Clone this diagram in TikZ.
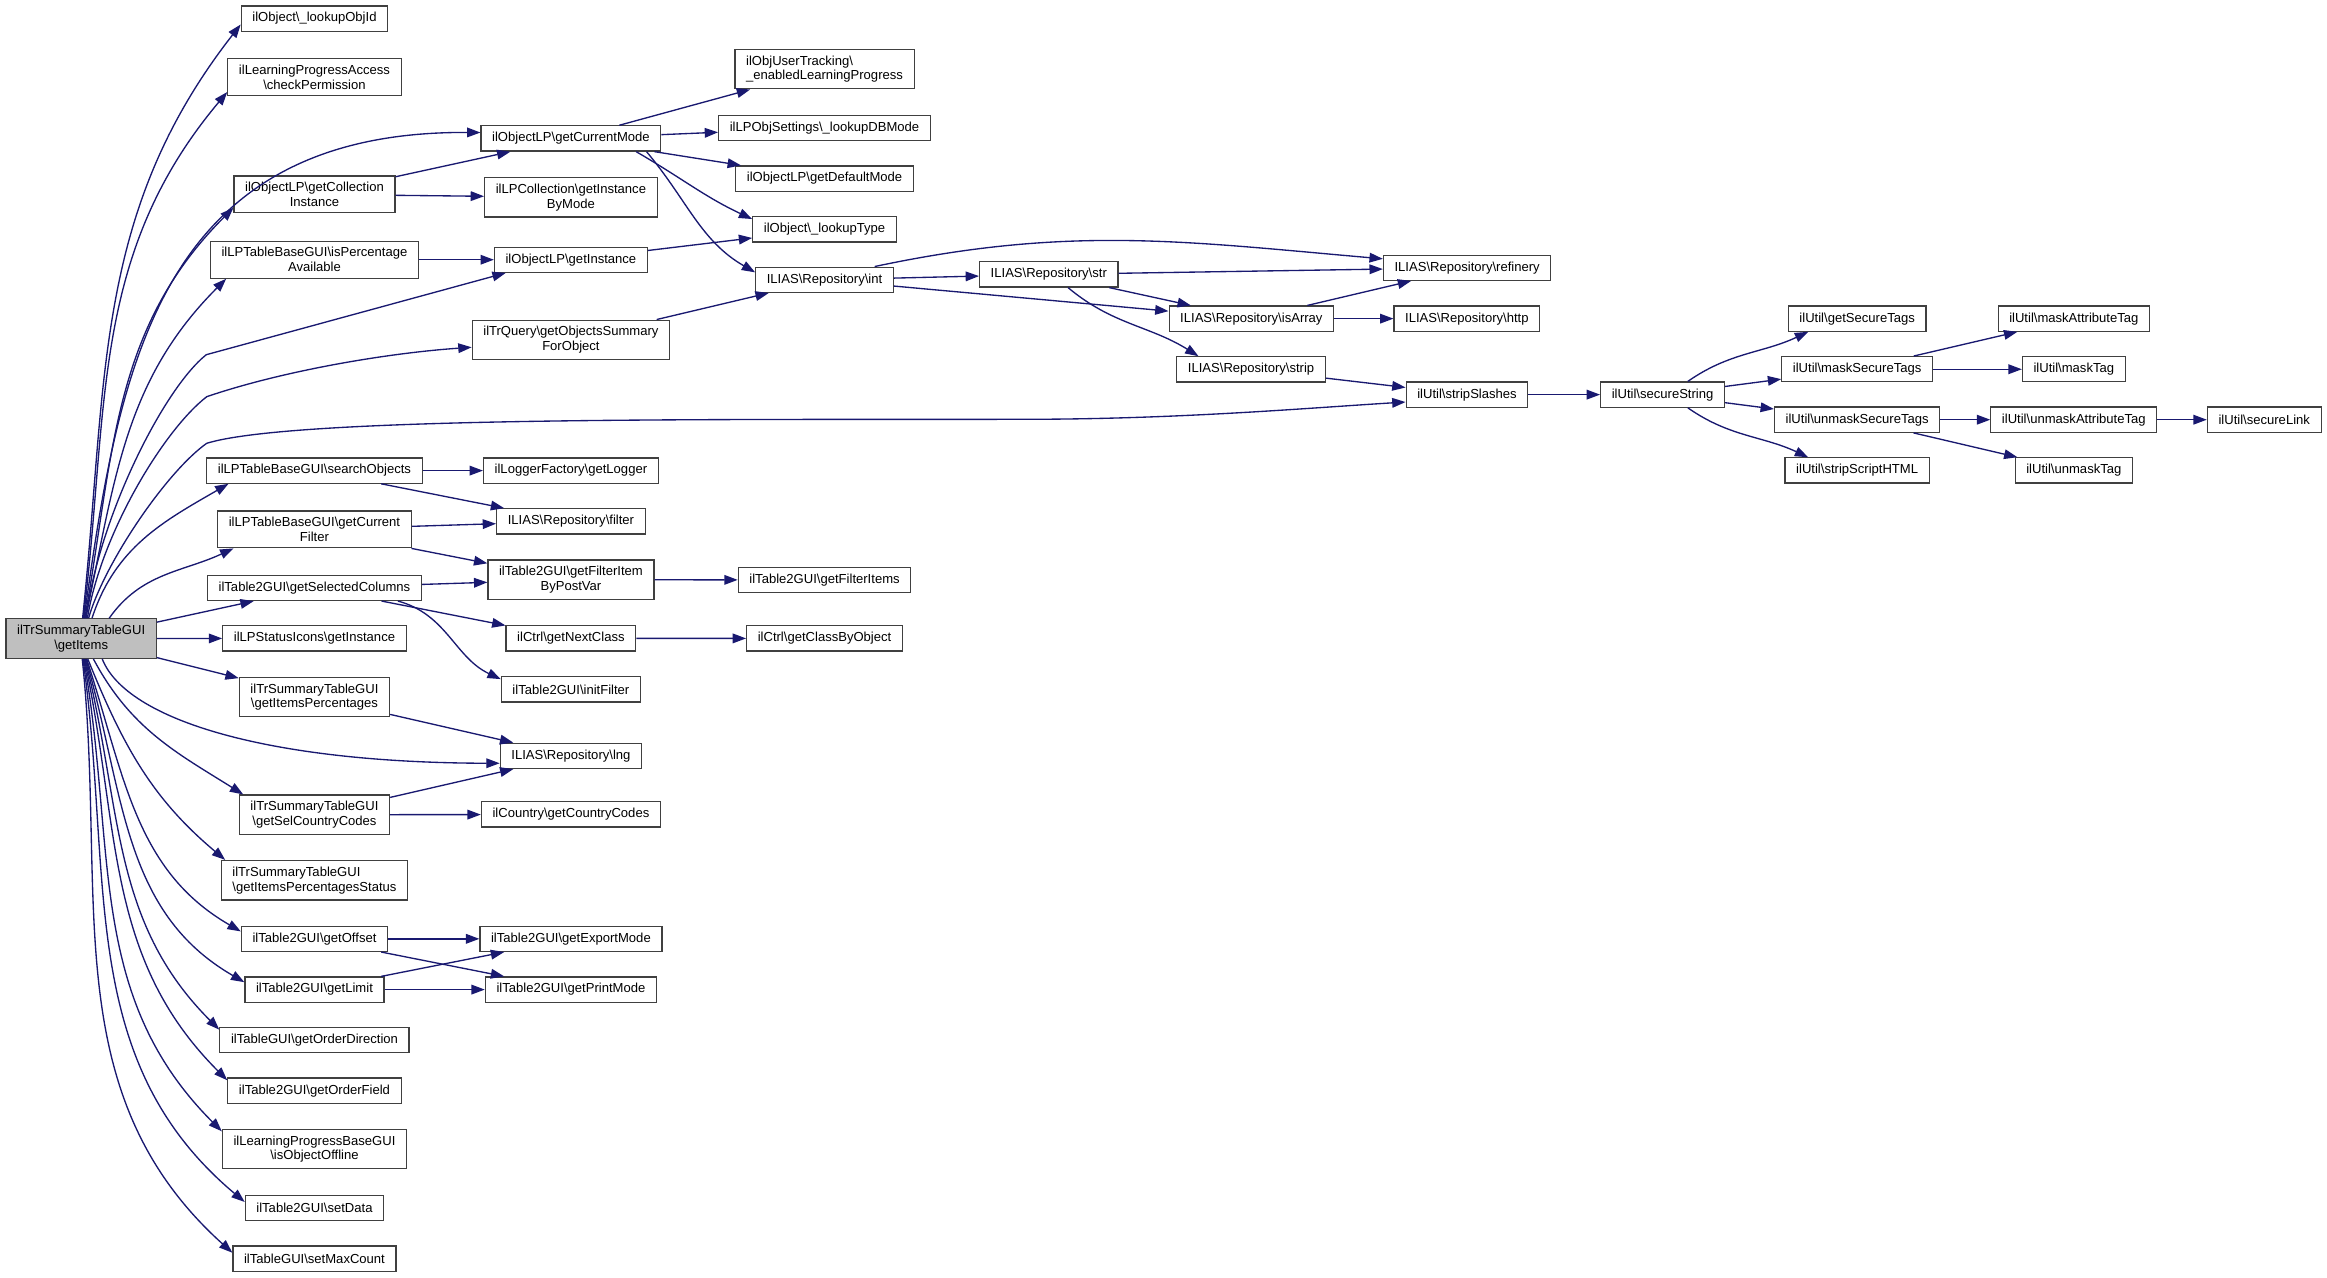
\documentclass[tikz,border=0pt]{standalone}
\usepackage{fontspec}
\setmainfont{Liberation Sans}
\usepackage{tikz}
\usetikzlibrary{arrows.meta}
\definecolor{callblue}{HTML}{191970}
\definecolor{rootgray}{HTML}{BFBFBF}
\newcommand{\bk}{\textbackslash}

\begin{document}
\begin{tikzpicture}[x=1pt,y=1pt]
\useasboundingbox (0,0) rectangle (1568,-860.5);
%\tikzstyle{fn}=[draw,rectangle,fill=white]
\begin{scope}[every node/.style={rectangle,draw=black!75,line width=0.8pt,fill=white,align=center,font=\fontsize{8.8}{10}\selectfont,inner xsep=7.5pt,inner ysep=4.2pt,minimum height=17pt}]
    \node[fill=rootgray] (root) at (54.7,-430.3) {ilTrSummaryTableGUI\\\bk getItems};

    \node (lookobj) at (211.9,-12.5) {ilObject\bk\_lookupObjId};
    \node (checkperm) at (211.9,-52) {ilLearningProgressAccess\\\bk checkPermission};
    \node (getcoll) at (211.9,-131) {ilObjectLP\bk getCollection\\Instance};
    \node (ispercent) at (211.9,-175) {ilLPTableBaseGUI\bk isPercentage\\Available};
    \node (searchobj) at (211.9,-317.1) {ilLPTableBaseGUI\bk searchObjects};
    \node (curfilter) at (211.9,-356.7) {ilLPTableBaseGUI\bk getCurrent\\Filter};
    \node (selcols) at (211.9,-396.1) {ilTable2GUI\bk getSelectedColumns};
    \node (statusicons) at (211.9,-430.1) {ilLPStatusIcons\bk getInstance};
    \node (itemsperc) at (211.9,-469.7) {ilTrSummaryTableGUI\\\bk getItemsPercentages};
    \node (selcountry) at (211.9,-549) {ilTrSummaryTableGUI\\\bk getSelCountryCodes};
    \node[align=left] (percstatus) at (211.9,-593.1) {ilTrSummaryTableGUI\\\bk getItemsPercentagesStatus};
    \node (getoffset) at (211.9,-632.6) {ilTable2GUI\bk getOffset};
    \node (getlimit) at (211.9,-666.8) {ilTable2GUI\bk getLimit};
    \node (orderdir) at (211.9,-700.8) {ilTableGUI\bk getOrderDirection};
    \node (orderfield) at (211.9,-734.9) {ilTable2GUI\bk getOrderField};
    \node (offline) at (211.9,-774.3) {ilLearningProgressBaseGUI\\\bk isObjectOffline};
    \node (setdata) at (211.9,-813.9) {ilTable2GUI\bk setData};
    \node (maxcount) at (211.9,-848.1) {ilTableGUI\bk setMaxCount};

    \node (curmode) at (384.7,-93.3) {ilObjectLP\bk getCurrentMode};
    \node (collmode) at (384.7,-132.9) {ilLPCollection\bk getInstance\\ByMode};
    \node (lpinst) at (384.7,-175) {ilObjectLP\bk getInstance};
    \node (objsum) at (384.7,-229) {ilTrQuery\bk getObjectsSummary\\ForObject};
    \node (logger) at (384.7,-317.1) {ilLoggerFactory\bk getLogger};
    \node (filter) at (384.7,-351.3) {ILIAS\bk Repository\bk filter};
    \node (filteritem) at (384.7,-390.6) {ilTable2GUI\bk getFilterItem\\ByPostVar};
    \node (nextclass) at (384.7,-430.1) {ilCtrl\bk getNextClass};
    \node (initfilter) at (384.7,-464.5) {ilTable2GUI\bk initFilter};
    \node (lng) at (384.7,-509.3) {ILIAS\bk Repository\bk lng};
    \node (countrycodes) at (384.7,-548.8) {ilCountry\bk getCountryCodes};
    \node (exportmode) at (384.7,-632.6) {ilTable2GUI\bk getExportMode};
    \node (printmode) at (384.7,-666.8) {ilTable2GUI\bk getPrintMode};

    \node[align=left] (enabledlp) at (555.6,-46.6) {ilObjUserTracking\bk\\\_enabledLearningProgress};
    \node (lookupdb) at (555.6,-86.1) {ilLPObjSettings\bk\_lookupDBMode};
    \node (defmode) at (555.6,-120.3) {ilObjectLP\bk getDefaultMode};
    \node (looktype) at (555.6,-154.5) {ilObject\bk\_lookupType};
    \node (rint) at (555.6,-188.5) {ILIAS\bk Repository\bk int};
    \node (filteritems) at (555.6,-390.8) {ilTable2GUI\bk getFilterItems};
    \node (classbyobj) at (555.6,-430.2) {ilCtrl\bk getClassByObject};

    \node (rstr) at (706.7,-184.9) {ILIAS\bk Repository\bk str};
    \node (isarray) at (843.2,-214.7) {ILIAS\bk Repository\bk isArray};
    \node (rstrip) at (843,-248.9) {ILIAS\bk Repository\bk strip};
    \node (refinery) at (988.6,-180.4) {ILIAS\bk Repository\bk refinery};
    \node (http) at (988.4,-214.7) {ILIAS\bk Repository\bk http};
    \node (stripslashes) at (988.5,-265.9) {ilUtil\bk stripSlashes};
    \node (securestr) at (1120.3,-265.9) {ilUtil\bk secureString};

    \node (securetags) at (1251.4,-214.7) {ilUtil\bk getSecureTags};
    \node (masksecure) at (1251.4,-248.8) {ilUtil\bk maskSecureTags};
    \node (unmasksecure) at (1251.4,-282.8) {ilUtil\bk unmaskSecureTags};
    \node (stripscript) at (1251.4,-317) {ilUtil\bk stripScriptHTML};
    \node (maskattr) at (1397.4,-214.7) {ilUtil\bk maskAttributeTag};
    \node (masktag) at (1397.4,-248.8) {ilUtil\bk maskTag};
    \node (unmaskattr) at (1397.4,-282.8) {ilUtil\bk unmaskAttributeTag};
    \node (unmasktag) at (1397.4,-317) {ilUtil\bk unmaskTag};
    \node (securelink) at (1525.7,-282.8) {ilUtil\bk secureLink};
\end{scope}

\begin{scope}[>={Triangle[length=9pt,width=6.5pt]},callblue,line width=0.9pt]
    % calls from the root, upwards
    \path [->] (root.86) edge[out=84,in=232] ([yshift=-4pt]lookobj.west);
    \path [->] (root.84) edge[out=83,in=230] ([yshift=-10pt]checkperm.west);
    \draw [->] (root.82) .. controls (80,-250) and (105,-88) .. ([yshift=4pt]curmode.west);
    \path [->] (root.80) edge[out=80,in=225] ([yshift=-9pt]getcoll.west);
    \path [->] (root.78) edge[out=78,in=225] ([xshift=11pt]ispercent.south west);
    \draw [->] (root.76) .. controls (66,-350) and (110,-262) .. (139,-239) -- ([xshift=8pt]lpinst.south west);
    \draw [->] (root.73) .. controls (68,-360) and (110,-290) .. (139.3,-267.3) .. controls (190,-250) and (260,-238) .. ([yshift=-5pt]objsum.west);
    \draw [->] (root.70) .. controls (70,-380) and (112,-318) .. (139.3,-298.7) .. controls (200,-280) and (500,-283) .. (700,-282.5) .. controls (800,-282) and (880,-275) .. ([yshift=-5pt]stripslashes.west);
    \path [->] (root.62) edge[out=72,in=210] ([xshift=15pt]searchobj.south west);
    \path [->] (root.36) edge[out=55,in=205] ([xshift=11pt]curfilter.south west);
    \path [->] (root) edge (selcols);
    \path [->] (root) edge (statusicons);
    \path [->] (root) edge (itemsperc);
    % calls from the root, downwards
    \draw [->] (root.-44) .. controls (85,-485) and (180,-514) .. ([yshift=-5pt]lng.west);
    \path [->] (root.-59) edge[out=-62,in=148] ([xshift=3pt]selcountry.north west);
    \path [->] (root.-72) edge[out=-68,in=140] ([xshift=3pt]percstatus.north west);
    \path [->] (root.-75) edge[out=-72,in=150] ([yshift=5pt]getoffset.west);
    \path [->] (root.-77) edge[out=-74,in=150] ([yshift=5pt]getlimit.west);
    \path [->] (root.-79) edge[out=-76,in=135] ([yshift=7pt]orderdir.west);
    \path [->] (root.-81) edge[out=-78,in=135] ([yshift=7pt]orderfield.west);
    \path [->] (root.-83) edge[out=-80,in=135] ([yshift=12pt]offline.west);
    \path [->] (root.-85) edge[out=-82,in=140] ([yshift=4pt]setdata.west);
    \path [->] (root.-87) edge[out=-84,in=138] ([yshift=4pt]maxcount.west);

    \path [->] (getcoll) edge (curmode);
    \path [->] (getcoll) edge (collmode);
    \path [->] (ispercent) edge (lpinst);
    \path [->] (curmode) edge (enabledlp);
    \path [->] (curmode) edge (lookupdb);
    \path [->] (curmode) edge (defmode);
    \path [->] ([xshift=-17pt]curmode.south east) edge[out=-30,in=155] ([yshift=-2pt]looktype.north west);
    \path [->] ([xshift=-10pt]curmode.south east) edge[out=-50,in=150] ([yshift=5pt]rint.west);
    \path [->] (lpinst) edge (looktype);
    \path [->] (objsum) edge (rint);

    \path [->] ([xshift=-13pt]rint.north east) edge[out=12,in=175] ([yshift=6pt]refinery.west);
    \path [->] (rint) edge (rstr);
    \path [->] (rint) edge (isarray);
    \path [->] (rstr) edge (refinery);
    \path [->] (rstr) edge (isarray);
    \path [->] ([xshift=13pt]rstr.south) edge[out=-40,in=148] ([xshift=15pt]rstrip.north west);
    \path [->] (isarray) edge (refinery);
    \path [->] (isarray) edge (http);
    \path [->] (rstrip) edge (stripslashes);
    \path [->] (stripslashes) edge (securestr);

    \path [->] ([xshift=17pt]securestr.north) edge[out=35,in=205] ([xshift=-33pt]securetags.south);
    \path [->] (securestr) edge (masksecure);
    \path [->] (securestr) edge (unmasksecure);
    \path [->] ([xshift=17pt]securestr.south) edge[out=-35,in=155] ([xshift=-33pt]stripscript.north);
    \path [->] (masksecure) edge (maskattr);
    \path [->] (masksecure) edge (masktag);
    \path [->] (unmasksecure) edge (unmaskattr);
    \path [->] (unmasksecure) edge (unmasktag);
    \path [->] (unmaskattr) edge (securelink);

    \path [->] (searchobj) edge (logger);
    \path [->] (searchobj) edge (filter);
    \path [->] (curfilter) edge (filter);
    \path [->] (curfilter) edge (filteritem);
    \path [->] (selcols) edge (filteritem);
    \path [->] (selcols) edge (nextclass);
    \path [->] (selcols.-9) edge[out=-15,in=155] ([yshift=-2pt]initfilter.north west);
    \path [->] (filteritem) edge (filteritems);
    \path [->] (nextclass) edge (classbyobj);
    \path [->] (itemsperc) edge (lng);
    \path [->] (selcountry) edge (lng);
    \path [->] (selcountry) edge (countrycodes);
    \path [->] (getoffset) edge (exportmode);
    \path [->] (getoffset) edge (printmode);
    \path [->] (getlimit) edge (exportmode);
    \path [->] (getlimit) edge (printmode);
\end{scope}
\end{tikzpicture}
\end{document}
